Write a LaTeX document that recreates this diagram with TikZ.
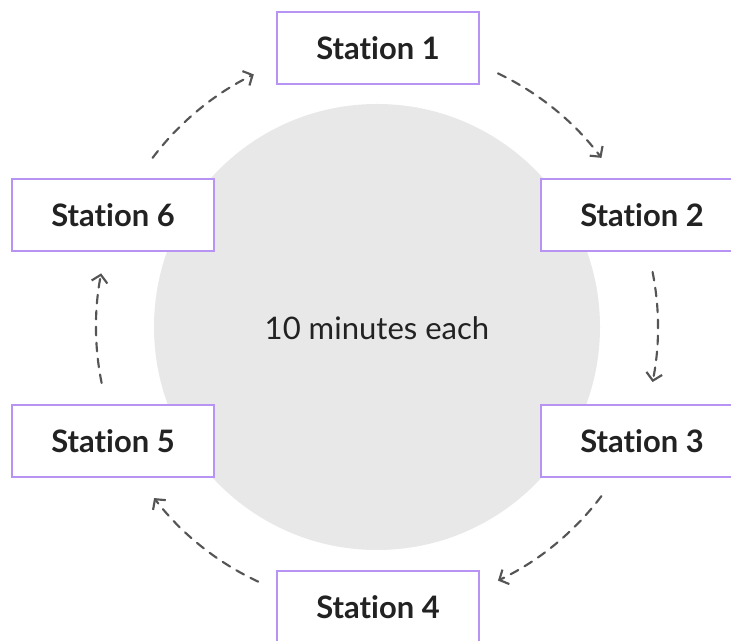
\documentclass[tikz,border=0pt]{standalone}
\usepackage{fontspec}
\setmainfont{Lato}[Ligatures=NoCommon]
\usetikzlibrary{arrows.meta}
\definecolor{boxline}{HTML}{B794F4}
\definecolor{disc}{HTML}{E8E8E8}
\definecolor{arrowgray}{HTML}{555555}
\definecolor{txt}{HTML}{222222}
\tikzset{
  stationbox/.style={draw=boxline, line width=1.6pt, fill=white, minimum width=151.5pt, minimum height=54pt, inner sep=0pt, font=\fontsize{23.2}{27}\selectfont\bfseries, text=txt},
  flow/.style={draw=arrowgray, line width=1.6pt, dash pattern=on 6.5pt off 5.5pt, line cap=round, -{Straight Barb[length=5.5pt,width=12pt,line width=1.6pt]}}
}
\begin{document}
\begin{tikzpicture}[x=0.75pt,y=0.75pt]
\useasboundingbox (0,0) rectangle (731,641);
\fill[white] (0,0) rectangle (731,641);
\coordinate (C) at (377,314);
\fill[disc] (C) circle[radius=167.25pt];
\node[font=\fontsize{23.3}{27}\selectfont, text=txt] (lbl) at (377,313) {10 minutes each};
\node[stationbox] (s1) at (378,593) {Station 1};
\node[stationbox] (s2) at (642,426) {Station 2};
\node[stationbox] (s3) at (642,200) {Station 3};
\node[stationbox] (s4) at (378,34) {Station 4};
\node[stationbox] (s5) at (113,200) {Station 5};
\node[stationbox] (s6) at (113,426) {Station 6};
\draw[flow] ([shift={(64.5:210.75pt)}]C) arc[start angle=64.5, end angle=37, radius=210.75pt];
\draw[flow] ([shift={(11.3:210.75pt)}]C) arc[start angle=11.3, end angle=-11.3, radius=210.75pt];
\draw[flow] ([shift={(-37:210.75pt)}]C) arc[start angle=-37, end angle=-64.5, radius=210.75pt];
\draw[flow] ([shift={(-115:210.75pt)}]C) arc[start angle=-115, end angle=-142.5, radius=210.75pt];
\draw[flow] ([shift={(-168.5:210.75pt)}]C) arc[start angle=-168.5, end angle=-191, radius=210.75pt];
\draw[flow] ([shift={(143:210.75pt)}]C) arc[start angle=143, end angle=116, radius=210.75pt];
\end{tikzpicture}
\end{document}
